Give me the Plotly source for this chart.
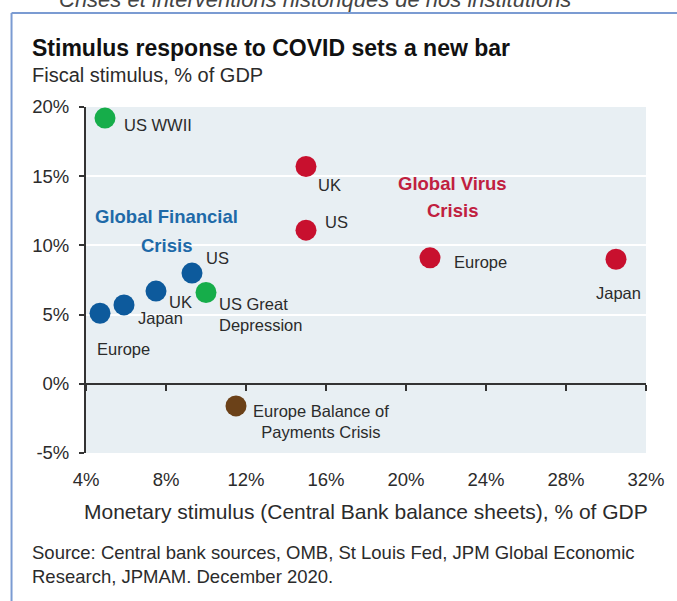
import plotly.graph_objects as go

# ---- data: fiscal (y) vs monetary (x) stimulus, % of GDP ----
covid_labels = ["UK", "US", "Europe", "Japan"]
covid_x = [15.0, 15.0, 21.2, 30.5]
covid_y = [15.7, 11.1, 9.1, 9.0]

gfc_labels = ["US", "UK", "Japan", "Europe"]
gfc_x = [9.3, 7.5, 5.9, 4.7]
gfc_y = [8.0, 6.7, 5.7, 5.1]

hist_labels = ["US WWII", "US Great<br>Depression"]
hist_x = [4.95, 10.0]
hist_y = [19.2, 6.6]

bop_labels = ["Europe Balance of<br>Payments Crisis"]
bop_x = [11.5]
bop_y = [-1.6]

x_ticks = [4, 8, 12, 16, 20, 24, 28, 32]
y_ticks = [-5, 0, 5, 10, 15, 20]

# ---- layout geometry ----
W, H = 677, 601
L, R, T, B = 86, 27, 107, 148
FONT = "Liberation Sans, Arial, Helvetica, sans-serif"
TXT = "#2b2b2b"


def px(x):
    return (x - L) / (W - L - R)


def py(y):
    return (H - B - y) / (H - T - B)


GREEN, RED, BLUE, BROWN = "#16ad4a", "#c8102e", "#0d5a9c", "#6b4118"

fig = go.Figure()

groups = [
    (covid_labels, covid_x, covid_y, RED),
    (gfc_labels, gfc_x, gfc_y, BLUE),
    (hist_labels, hist_x, hist_y, GREEN),
    (bop_labels, bop_x, bop_y, BROWN),
]
for labels, xs, ys, col in groups:
    fig.add_trace(go.Scatter(
        x=xs, y=ys, mode="markers", text=labels, hoverinfo="text",
        marker=dict(size=21, color=col, line=dict(width=0)),
        showlegend=False,
    ))

# axis line through 0% with downward ticks
fig.add_trace(go.Scatter(x=[x_ticks[0]], y=[0], xaxis="x2", mode="markers",
                         marker=dict(opacity=0), hoverinfo="skip", showlegend=False))

# point label offsets (px): xshift, yshift, anchor
offsets = {
    ("covid", "UK"): (10, -18, "left"),
    ("covid", "US"): (17, 8, "left"),
    ("covid", "Europe"): (22, -4, "left"),
    ("covid", "Japan"): (2, -34, "center"),
    ("gfc", "US"): (12, 15, "left"),
    ("gfc", "UK"): (11, -11, "left"),
    ("gfc", "Japan"): (12, -13, "left"),
    ("gfc", "Europe"): (-5, -36, "left"),
    ("hist", "US WWII"): (17, -7, "left"),
    ("hist", "US Great<br>Depression"): (11, -22, "left"),
    ("bop", "Europe Balance of<br>Payments Crisis"): (85, -16, "center"),
}
for key, (labels, xs, ys, _) in zip(["covid", "gfc", "hist", "bop"], groups):
    for lab, x, y in zip(labels, xs, ys):
        dx, dy, anc = offsets[(key, lab)]
        fig.add_annotation(
            x=x, y=y, xref="x", yref="y", text=lab, showarrow=False,
            xanchor=anc, yanchor="middle", xshift=dx, yshift=dy,
            align="center" if anc == "center" else "left",
            font=dict(family=FONT, size=16.5, color=TXT),
        )

# group labels
for txt, x, y, col in [
    ("Global Financial", 167, 216, "#1e6aa8"),
    ("Crisis", 167, 245, "#1e6aa8"),
    ("Global Virus", 455, 183, "#c0203f"),
    ("Crisis", 455, 210, "#c0203f"),
]:
    fig.add_annotation(x=px(x), y=py(y), xref="paper", yref="paper", text=f"<b>{txt}</b>",
                       showarrow=False, xanchor="center", yanchor="middle",
                       font=dict(family=FONT, size=18.5, color=col))

# titles and notes
texts = [
    ("<b>Stimulus response to COVID sets a new bar</b>", 30, 48, 23, "#111111", "left"),
    ("Fiscal stimulus, % of GDP", 30, 75, 20, TXT, "left"),
    ("Monetary stimulus (Central Bank balance sheets), % of GDP", 368, 511, 21, TXT, "center"),
    ("Source: Central bank sources, OMB, St Louis Fed, JPM Global Economic", 30, 552, 18.5, TXT, "left"),
    ("Research, JPMAM. December 2020.", 30, 576, 18.5, TXT, "left"),
    ("<i>Crises et interventions historiques de nos institutions</i>", 57, 0, 22, "#444444", "left"),
]
for txt, x, y, size, col, anc in texts:
    fig.add_annotation(x=px(x), y=py(y), xref="paper", yref="paper", text=txt,
                       showarrow=False, xanchor=anc, yanchor="middle",
                       font=dict(family=FONT, size=size, color=col))

# slide frame
FRAME = "#7b9bd2"
fig.add_shape(type="line", xref="paper", yref="paper", x0=px(11), x1=px(11), y0=py(13), y1=py(H + 5),
              line=dict(color=FRAME, width=2))
fig.add_shape(type="line", xref="paper", yref="paper", x0=px(11), x1=px(W + 5), y0=py(13), y1=py(13),
              line=dict(color=FRAME, width=2))

fig.update_layout(
    width=W, height=H, autosize=False,
    margin=dict(l=L, r=R, t=T, b=B),
    paper_bgcolor="white", plot_bgcolor="#e8eff3",
    font=dict(family=FONT, color=TXT),
    xaxis=dict(range=[4, 32], tickvals=x_ticks, ticktext=[f"{v}%" for v in x_ticks],
               showgrid=False, zeroline=False, showline=False, ticks="",
               tickfont=dict(size=18.5, color=TXT), ticklabelstandoff=13, fixedrange=True),
    xaxis2=dict(range=[4, 32], overlaying="x", anchor="free", position=0.2,
                tickvals=x_ticks, showticklabels=False, showgrid=False, zeroline=False,
                showline=True, linecolor="#333333", linewidth=2,
                ticks="outside", ticklen=6, tickwidth=2, tickcolor="#333333", fixedrange=True),
    yaxis=dict(range=[-5, 20], tickvals=y_ticks, ticktext=[f"{v}%" for v in y_ticks],
               showgrid=True, gridcolor="white", gridwidth=2, zeroline=False,
               showline=True, linecolor="#333333", linewidth=2,
               ticks="outside", ticklen=5, tickwidth=2, tickcolor="#333333",
               tickfont=dict(size=18.5, color=TXT), ticklabelstandoff=6, fixedrange=True),
)

fig.write_html("out.html")
